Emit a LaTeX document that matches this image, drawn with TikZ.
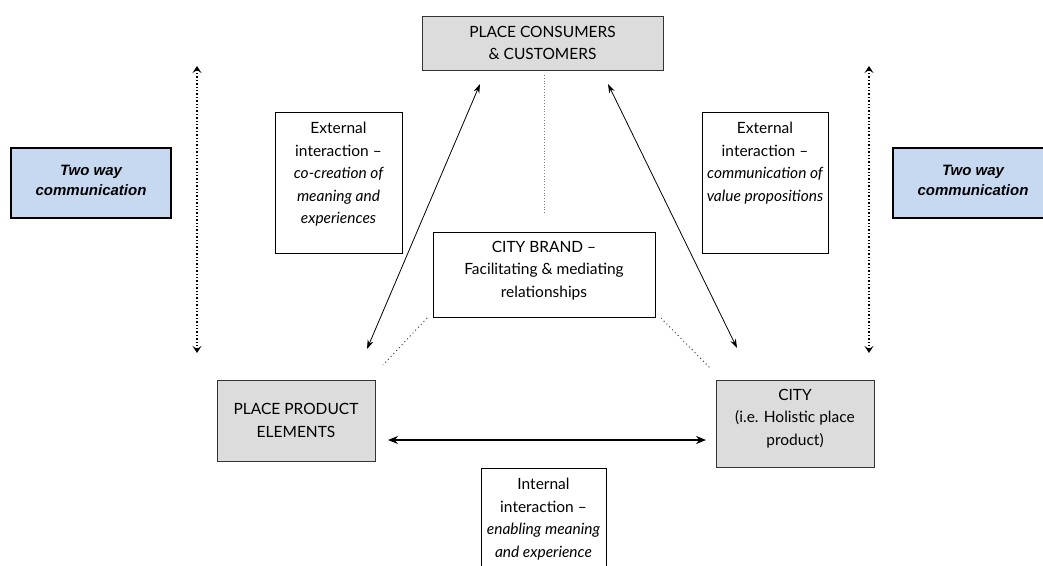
\documentclass[tikz,border=0pt]{standalone}
\usepackage{fontspec}
\setmainfont{Lato}
\newfontfamily\arialfont{Liberation Sans}
\usetikzlibrary{arrows.meta}
\definecolor{boxgray}{HTML}{DCDCDC}
\definecolor{boxblue}{HTML}{C6D9F1}
\tikzset{
  graybox/.style={draw=black!80, line width=0.9pt, fill=boxgray, inner sep=0pt, align=center, font=\fontsize{15.5}{22.5}\selectfont},
  whitebox/.style={draw=black, line width=0.9pt, fill=white, inner sep=0pt},
  bluebox/.style={draw=black, line width=1.8pt, fill=boxblue, inner sep=0pt, align=center, font=\arialfont\bfseries\itshape\fontsize{15}{20}\selectfont},
  boxtext/.style={anchor=north, align=center, inner sep=0pt, font=\fontsize{15.5}{22.5}\selectfont},
  solidarrow/.style={line width=0.8pt, {Stealth[length=9pt,width=6pt]}-{Stealth[length=9pt,width=6pt]}},
  thickarrow/.style={line width=1.4pt, {Stealth[length=10pt,width=8pt]}-{Stealth[length=10pt,width=8pt]}},
  dotarrow/.style={line width=1.4pt, dotted, {Stealth[length=7pt,width=9pt,inset=3pt]}-{Stealth[length=7pt,width=9pt,inset=3pt]}},
  dotline/.style={line width=1pt, dash pattern=on 1pt off 3pt, black!75},
  greydot/.style={line width=0.8pt, dotted, black!50}
}
\begin{document}
\begin{tikzpicture}[x=1pt,y=-1pt]
\useasboundingbox (0,0) rectangle (1043,565);
\clip (0,0) rectangle (1043,565);
% main boxes
\node[graybox, minimum width=241pt, minimum height=54pt] (cons) at (542.5,43) {PLACE CONSUMERS\\[-1pt]\& CUSTOMERS};
\node[graybox, minimum width=158pt, minimum height=81pt] (ppe) at (296,420.5) {PLACE PRODUCT\\ELEMENTS};
\node[graybox, minimum width=158pt, minimum height=87pt] (city) at (795,423.5) {};
\node[boxtext] (cityt) at (795,389) {CITY\\(i.e. Holistic place\\product)};
% text boxes
\node[whitebox, minimum width=127pt, minimum height=141pt] (extL) at (338.5,182.5) {};
\node[boxtext] (extLt) at (338.5,122) {External\\interaction --\\\itshape co-creation of\\\itshape meaning and\\\itshape experiences};
\node[whitebox, minimum width=126pt, minimum height=141pt] (extR) at (765,182.5) {};
\node[boxtext] (extRt) at (765,122) {External\\interaction --\\\itshape communication of\\\itshape value propositions};
\node[whitebox, minimum width=222pt, minimum height=85pt] (brand) at (544,274.5) {};
\node[boxtext] (brandt) at (544,241) {CITY BRAND --\\Facilitating \& mediating\\relationships};
\node[whitebox, anchor=north, minimum width=125pt, minimum height=130pt] (intl) at (543.5,468) {};
\node[boxtext] (intlt) at (543.5,478) {Internal\\interaction --\\\itshape enabling meaning\\\itshape and experience};
% two way boxes
\node[bluebox, minimum width=160pt, minimum height=70pt] (twoL) at (91,183) {};
\node[align=center, inner sep=0pt, font=\arialfont\bfseries\itshape\fontsize{15}{20}\selectfont] (twoLt) at (91,180) {Two way\\communication};
\node[bluebox, minimum width=160pt, minimum height=70pt] (twoR) at (973,183) {};
\node[align=center, inner sep=0pt, font=\arialfont\bfseries\itshape\fontsize{15}{20}\selectfont] (twoRt) at (973,180) {Two way\\communication};
% coordinates
\coordinate (lt) at (197,66);
\coordinate (lb) at (197,353);
\coordinate (rt) at (869,66);
\coordinate (rb) at (869,353);
\coordinate (aL1) at (367,349);
\coordinate (aL2) at (480,84);
\coordinate (aR1) at (608,84);
\coordinate (aR2) at (737,348);
\coordinate (h1) at (388,440);
\coordinate (h2) at (706,440);
\coordinate (gv1) at (544,75);
\coordinate (gv2) at (544,213);
\coordinate (dl1) at (427,318);
\coordinate (dl2) at (383,365);
\coordinate (dr1) at (661,318);
\coordinate (dr2) at (710,368);
% connectors
\draw[dotarrow] (lt) -- (lb);
\draw[dotarrow] (rt) -- (rb);
\draw[solidarrow] (aL1) -- (aL2);
\draw[solidarrow] (aR1) -- (aR2);
\draw[thickarrow] (h1) -- (h2);
\draw[greydot] (gv1) -- (gv2);
\draw[dotline] (dl1) -- (dl2);
\draw[dotline] (dr1) -- (dr2);
\end{tikzpicture}
\end{document}
